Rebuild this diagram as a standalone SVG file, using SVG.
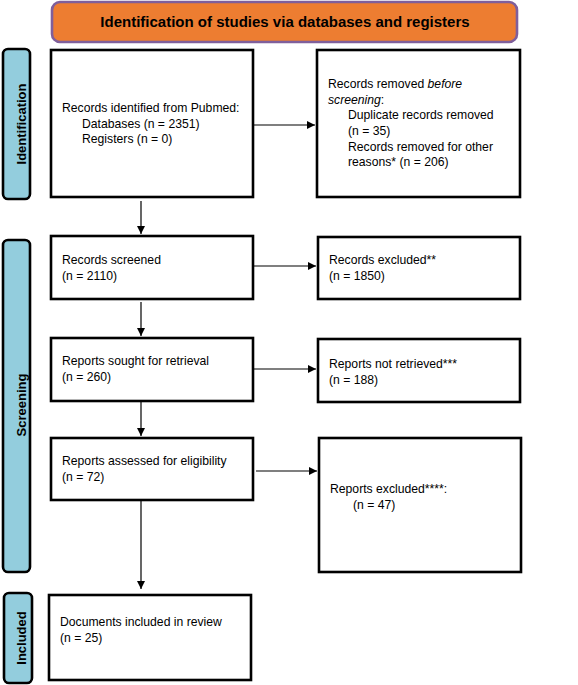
<svg xmlns="http://www.w3.org/2000/svg" width="578" height="685" viewBox="0 0 578 685">
<style>
.box{fill:#fff;stroke:#000;stroke-width:2.6}
.side{fill:#93CDDD;stroke:#000;stroke-width:2.6}
.t{font-family:"Liberation Sans",Arial,sans-serif;font-size:12.2px;fill:#000}
.st{font-family:"Liberation Sans",Arial,sans-serif;font-size:13px;font-weight:bold;fill:#000}
.ln{stroke:#000;stroke-width:1.2;fill:none}
</style>
<defs>
<marker id="ah" viewBox="0 0 10 10" refX="10" refY="5" markerWidth="8" markerHeight="8" markerUnits="userSpaceOnUse" orient="auto">
<path d="M0,0 L10,5 L0,10 Z" fill="#000"/>
</marker>
</defs>
<rect width="578" height="685" fill="#fff"/>
<g id="header">
<rect x="52" y="2" width="465" height="40" rx="8" fill="#ED7D31" stroke="#7F5F9B" stroke-width="2.6"/>
<text x="285" y="27" text-anchor="middle" font-family="'Liberation Sans',Arial,sans-serif" font-size="15" font-weight="bold">Identification of studies via databases and registers</text>
</g>
<g id="side-identification">
<rect x="3" y="49" width="27" height="150" rx="5" class="side"/>
<text class="st" transform="translate(25.5,124) rotate(-90)" text-anchor="middle">Identification</text>
</g>
<g id="side-screening">
<rect x="3" y="240" width="27" height="332" rx="5" class="side"/>
<text class="st" transform="translate(25.5,405) rotate(-90)" text-anchor="middle">Screening</text>
</g>
<g id="side-included">
<rect x="4" y="593" width="28" height="90" rx="5" class="side"/>
<text class="st" transform="translate(25.5,638) rotate(-90)" text-anchor="middle">Included</text>
</g>
<g id="identified">
<rect x="51" y="50" width="202" height="147" class="box"/>
<text class="t" x="62" y="112">Records identified from Pubmed:</text>
<text class="t" x="82" y="127.5">Databases (n = 2351)</text>
<text class="t" x="82" y="143">Registers (n = 0)</text>
</g>
<g id="removed">
<rect x="317" y="50" width="203" height="147" class="box"/>
<text class="t" x="328" y="88">Records removed <tspan font-style="italic">before</tspan></text>
<text class="t" x="328" y="103.5"><tspan font-style="italic">screening</tspan>:</text>
<text class="t" x="348" y="119">Duplicate records removed</text>
<text class="t" x="348" y="135">(n = 35)</text>
<text class="t" x="348" y="150.5">Records removed for other</text>
<text class="t" x="348" y="166">reasons* (n = 206)</text>
</g>
<g id="screened">
<rect x="51" y="236" width="202" height="63" class="box"/>
<text class="t" x="62" y="264">Records screened</text>
<text class="t" x="62" y="280">(n = 2110)</text>
</g>
<g id="excluded">
<rect x="318" y="237" width="202" height="62" class="box"/>
<text class="t" x="329" y="264">Records excluded**</text>
<text class="t" x="329" y="280">(n = 1850)</text>
</g>
<g id="sought">
<rect x="51" y="338" width="202" height="63" class="box"/>
<text class="t" x="62" y="365">Reports sought for retrieval</text>
<text class="t" x="62" y="381">(n = 260)</text>
</g>
<g id="notretrieved">
<rect x="318" y="339" width="202" height="63" class="box"/>
<text class="t" x="329" y="368">Reports not retrieved***</text>
<text class="t" x="329" y="384">(n = 188)</text>
</g>
<g id="assessed">
<rect x="51" y="438" width="202" height="62" class="box"/>
<text class="t" x="62" y="465">Reports assessed for eligibility</text>
<text class="t" x="62" y="481">(n = 72)</text>
</g>
<g id="reportsexcluded">
<rect x="319" y="438" width="202" height="134" class="box"/>
<text class="t" x="330" y="493">Reports excluded****:</text>
<text class="t" x="353" y="509">(n = 47)</text>
</g>
<g id="included">
<rect x="49" y="595" width="202" height="85" class="box"/>
<text class="t" x="60" y="626">Documents included in review</text>
<text class="t" x="60" y="642">(n = 25)</text>
</g>
<g id="connectors">
<line class="ln" x1="254" y1="125" x2="315" y2="125" marker-end="url(#ah)"/>
<line class="ln" x1="141" y1="201" x2="141" y2="234" marker-end="url(#ah)"/>
<line class="ln" x1="254" y1="266" x2="316" y2="266" marker-end="url(#ah)"/>
<line class="ln" x1="141" y1="302" x2="141" y2="336" marker-end="url(#ah)"/>
<line class="ln" x1="254" y1="369" x2="316" y2="369" marker-end="url(#ah)"/>
<line class="ln" x1="141" y1="402" x2="141" y2="436" marker-end="url(#ah)"/>
<line class="ln" x1="256" y1="471" x2="317" y2="471" marker-end="url(#ah)"/>
<line class="ln" x1="141" y1="501" x2="141" y2="589" marker-end="url(#ah)"/>
</g>
</svg>
